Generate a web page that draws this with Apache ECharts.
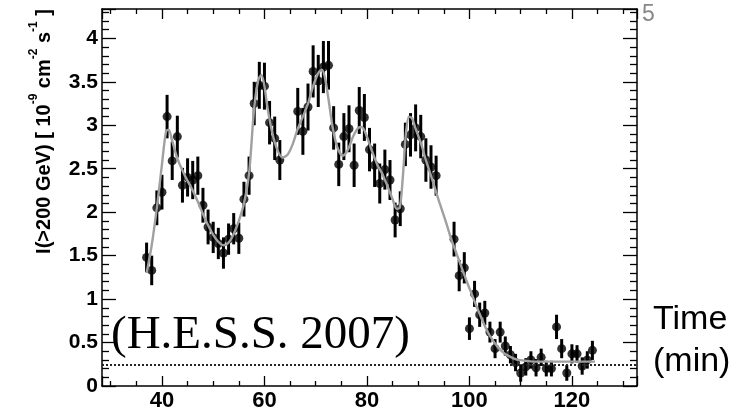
<!DOCTYPE html>
<html>
<head>
<meta charset="utf-8">
<script src="https://cdn.jsdelivr.net/npm/echarts@6/dist/echarts.min.js"></script>
<style>
html,body{margin:0;padding:0;background:#fff;}
#chart{width:743px;height:412px;}
</style>
</head>
<body>
<div id="chart"></div>
<script>
// ---- data ----
const pointT = [37,38,39,40,41,42,43,44,45,46,47,48,49,50,51,52,53,54,55,56,57,58,59,60,61,62,63,
  66.5,67.5,68.5,69.5,70.5,71.5,72.5,73.5,74.5,75.5,76.5,77.5,78.5,79.5,80.5,81.5,82.5,83.5,84.5,85.5,86.5,87.5,88.5,89.5,90.5,91.5,92.5,93.5,
  97,98,99,100,101,102,103,104,105,106,107,108,109,110,111,112,113,114,115,116,117,118,119,120,121,122,123,124];
const pointV = [1.48,1.33,2.05,2.23,3.10,2.59,2.87,2.31,2.40,2.37,2.42,2.08,1.83,1.71,1.64,1.53,1.69,1.81,1.70,2.15,2.42,3.25,3.46,3.45,3.03,2.85,2.60,
  3.16,2.93,3.21,3.62,3.51,3.67,3.69,2.97,2.55,2.87,2.96,2.54,3.17,3.09,2.72,2.54,2.33,2.49,2.37,1.91,2.04,2.78,2.89,2.97,2.87,2.60,2.52,2.42,
  1.69,1.27,1.36,0.66,1.06,0.82,0.84,0.62,0.43,0.62,0.46,0.36,0.27,0.15,0.22,0.30,0.21,0.33,0.20,0.20,0.68,0.43,0.15,0.37,0.37,0.23,0.30,0.41];
const pointErr = [0.17,0.17,0.20,0.20,0.25,0.22,0.24,0.20,0.22,0.22,0.22,0.20,0.20,0.18,0.18,0.18,0.18,0.18,0.18,0.20,0.22,0.25,0.27,0.27,0.25,0.25,0.23,
  0.27,0.27,0.27,0.30,0.30,0.30,0.28,0.25,0.25,0.27,0.27,0.25,0.27,0.27,0.25,0.25,0.23,0.23,0.23,0.20,0.20,0.25,0.25,0.27,0.25,0.25,0.25,0.23,
  0.20,0.18,0.18,0.13,0.15,0.14,0.14,0.12,0.11,0.12,0.11,0.10,0.10,0.10,0.10,0.10,0.10,0.10,0.09,0.09,0.14,0.11,0.09,0.11,0.10,0.10,0.10,0.11];
const curveT = [37,38,39,40,40.8,41.3,42,43,44,45,46,47,48,49,50,51,52,53,54,55,56,57,58,58.8,59.4,60,60.6,61.5,62.5,63.5,64.5,65.5,66.5,67.5,68.5,69.5,70.5,71.2,71.8,72.5,73.3,74.2,75.3,76.3,77.3,78.3,79,79.8,81,82,83,84,85,85.8,86.4,87,87.6,88.2,88.8,89.5,90.5,91.5,92.5,93.5,94.5,95.5,96.5,97.5,98.5,99.5,100.5,101.5,102.5,103.5,104.5,105.5,106.5,107.5,108.5,109.5,111,113,116,120,124.5];
const curveV = [1.30,1.62,2.05,2.55,2.93,2.95,2.82,2.62,2.48,2.36,2.25,2.12,1.98,1.85,1.74,1.66,1.62,1.65,1.75,1.90,2.10,2.45,3.20,3.52,3.58,3.45,3.20,2.92,2.72,2.63,2.66,2.78,2.96,3.10,3.25,3.45,3.60,3.64,3.55,3.30,2.98,2.75,2.65,2.72,2.87,2.97,2.98,2.90,2.70,2.55,2.44,2.30,2.15,2.04,2.05,2.40,2.90,3.10,3.08,2.96,2.80,2.60,2.42,2.23,2.05,1.87,1.68,1.52,1.36,1.20,1.05,0.90,0.76,0.63,0.53,0.45,0.39,0.35,0.32,0.30,0.29,0.28,0.28,0.28,0.28];
const baselineLevel = 0.25;
const xTickLabels = [40,60,80,100,120];
const yTickLabels = ['0','0.5','1','1.5','2','2.5','3','3.5','4'];

const xMin = 28.3, xMax = 132.7, yMin = 0, yMax = 4.338;
const FONT = '"Liberation Sans", Arial, Helvetica, sans-serif';

const chart = echarts.init(document.getElementById('chart'), null, {renderer:'canvas'});

function xFmt(v){ return xTickLabels.some(t => Math.abs(t - v) < 1e-6) ? String(Math.round(v)) : ''; }
function yFmt(v){ const s = String(Math.round(v*10)/10); return (yTickLabels.indexOf(s) >= 0 && Math.abs(v*2 - Math.round(v*2)) < 1e-6) ? s : ''; }

const lineBlack = {color:'#000', width:1.5};
const tickStyle = {color:'#000', width:1.3};

function xAx(pos, showLabel){
  return {
    type:'value', min:xMin, max:xMax, splitNumber:5, position:pos,
    axisLine:{show:true, onZero:false, lineStyle:lineBlack},
    axisTick:{show:true, inside:true, length:10, lineStyle:tickStyle},
    minorTick:{show:true, splitNumber:4, length:5, lineStyle:tickStyle},
    splitLine:{show:false}, minorSplitLine:{show:false},
    axisLabel:{show:showLabel, formatter:xFmt, fontSize:22, fontWeight:'bold', color:'#000', margin:4, fontFamily:FONT}
  };
}
function yAx(pos, showLabel){
  return {
    type:'value', min:yMin, max:yMax, interval:0.5, position:pos,
    axisLine:{show:true, onZero:false, lineStyle:lineBlack},
    axisTick:{show:true, inside:true, length:14, lineStyle:tickStyle},
    minorTick:{show:true, splitNumber:5, length:7, lineStyle:tickStyle},
    splitLine:{show:false}, minorSplitLine:{show:false},
    axisLabel:{show:showLabel, formatter:yFmt, fontSize:21, fontWeight:'bold', color:'#000', margin:4, fontFamily:FONT, showMaxLabel:false}
  };
}

const errData = pointT.map((t,i) => [t, pointV[i]-pointErr[i], pointV[i]+pointErr[i]]);
const ptData = pointT.map((t,i) => [t, pointV[i]]);
const curveData = curveT.map((t,i) => [t, curveV[i]]);

const option = {
  animation:false,
  backgroundColor:'#fff',
  grid:{left:102, right:106, top:9, bottom:26, containLabel:false},
  xAxis:[xAx('bottom', true), xAx('top', false)],
  yAxis:[yAx('left', true), yAx('right', false)],
  series:[
    {
      type:'custom', xAxisIndex:0, yAxisIndex:0, clip:true,
      renderItem:function(params, api){
        const p1 = api.coord([api.value(0), api.value(1)]);
        const p2 = api.coord([api.value(0), api.value(2)]);
        return {type:'line', shape:{x1:p1[0], y1:p1[1], x2:p2[0], y2:p2[1]}, style:{stroke:'#000', lineWidth:3}};
      },
      data:errData, z:2
    },
    {
      type:'scatter', xAxisIndex:0, yAxisIndex:0, symbol:'circle', symbolSize:9,
      itemStyle:{color:'#000'}, data:ptData, z:3
    },
    {
      type:'line', xAxisIndex:0, yAxisIndex:0, smooth:0.3, showSymbol:false, symbol:'none',
      lineStyle:{color:'#a0a0a0', width:2.4}, data:curveData, z:4,
      markLine:{silent:true, symbol:['none','none'], label:{show:false},
        lineStyle:{color:'#222', width:2, type:[2,2]},
        data:[{yAxis:baselineLevel}]}
    }
  ],
  graphic:[
    {
      type:'text', x:41, y:9, rotation:Math.PI/2,
      style:{
        text:'{a|I(>200 GeV) [ 10}{s|-9}{a| cm}{s|-2}{a| s}{s|-1}{a| ]}',
        align:'right', verticalAlign:'middle',
        rich:{
          a:{fontSize:20, fontWeight:'bold', fontFamily:FONT, fill:'#000', lineHeight:26, verticalAlign:'bottom'},
          s:{fontSize:12, fontWeight:'bold', fontFamily:FONT, fill:'#000', lineHeight:26, verticalAlign:'top'}
        }
      }
    },
    {
      type:'text', x:111, y:336,
      style:{text:'(H.E.S.S. 2007)', font:'47px "Liberation Serif", "Times New Roman", serif', fill:'#000', align:'left', verticalAlign:'middle'}, z:10
    },
    {
      type:'text', x:653, y:320,
      style:{text:'Time', font:'34px "Liberation Sans", Arial, sans-serif', fill:'#000', align:'left', verticalAlign:'middle'}
    },
    {
      type:'text', x:653, y:362,
      style:{text:'(min)', font:'34px "Liberation Sans", Arial, sans-serif', fill:'#000', align:'left', verticalAlign:'middle'}
    },
    {
      type:'text', x:642, y:15,
      style:{text:'5', font:'23px "Liberation Sans", Arial, sans-serif', fill:'#888', align:'left', verticalAlign:'middle'}
    }
  ]
};
chart.setOption(option);
</script>
</body>
</html>
